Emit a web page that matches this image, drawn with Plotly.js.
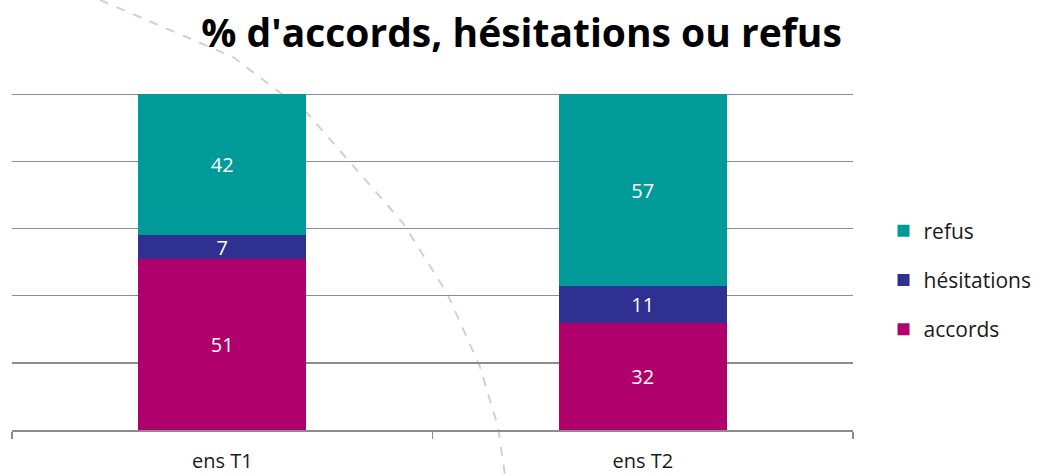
<!DOCTYPE html>
<html><head><meta charset="utf-8">
<script src="https://cdn.plot.ly/plotly-3.0.1.min.js"></script>
<style>html,body{margin:0;padding:0;background:#fff}#chart{width:1037px;height:475px}</style>
</head><body><div id="chart"></div>
<script>
const categories = ['ens T1', 'ens T2'];
const accords = [51, 32];
const hesitations = [7, 11];
const refus = [42, 57];
const seriesNames = ['accords', 'hésitations', 'refus'];
const colors = ['#AF006C', '#2E3191', '#009A99'];

const font = '"Open Sans", "Noto Sans", sans-serif';
function tr(vals, i) {
  return {
    type: 'bar', x: categories, y: vals, name: seriesNames[i],
    legendgroup: 'g' + i, legendrank: 3 - i,
    marker: {color: colors[i], line: {width: 0}},
    text: vals.map(String), textposition: 'inside', insidetextanchor: 'middle',
    textangle: 0, constraintext: 'none',
    textfont: {color: '#ffffff', size: 20, family: font},
    hoverinfo: 'skip'
  };
}
const data = [tr(accords, 0), tr(hesitations, 1), tr(refus, 2)];

// decorative dashed arc (background ornament)
const arc = 'M0.1046,1.276 L0.2628,1.1068 L0.3508,0.9407 L0.4649,0.6142 L0.5172,0.4065 L0.5565,0.1869 L0.5779,0.0089 L0.5862,-0.1335';

const layout = {
  width: 1037, height: 475,
  margin: {l: 12, r: 184, t: 93, b: 45, autoexpand: false},
  paper_bgcolor: '#ffffff', plot_bgcolor: 'rgba(0,0,0,0)',
  barmode: 'stack', bargap: 0.6,
  title: {text: "<b>% d'accords, hésitations ou refus</b>", x: 0.503, xanchor: 'center', y: 0.93, yanchor: 'middle',
          font: {family: font, size: 39, color: '#000000'}},
  xaxis: {showline: true, linecolor: '#8C8C8C', linewidth: 1.5, ticks: 'outside', tickson: 'boundaries',
          ticklen: 7, tickcolor: '#8C8C8C', tickwidth: 1.5, showgrid: false, ticklabelstandoff: 12,
          tickfont: {family: font, size: 20, color: '#1a1a1a'}, fixedrange: true},
  yaxis: {range: [0, 100.4], dtick: 20, showticklabels: false, showgrid: true, gridcolor: '#8C8C8C', gridwidth: 1.5,
          zeroline: false, showline: false, fixedrange: true},
  legend: {xref: 'container', x: 0.852, xanchor: 'left', y: 0.445, yanchor: 'middle', traceorder: 'grouped', tracegroupgap: 19,
           font: {family: font, size: 21, color: '#1a1a1a'}, itemwidth: 30, bgcolor: 'rgba(0,0,0,0)'},
  shapes: [{type: 'path', xref: 'paper', yref: 'paper', path: arc, layer: 'below',
            line: {color: '#D0D0D0', width: 2, dash: 'dash'}}],
  showlegend: true
};
Plotly.newPlot('chart', data, layout, {displayModeBar: false, staticPlot: true});
</script></body></html>
